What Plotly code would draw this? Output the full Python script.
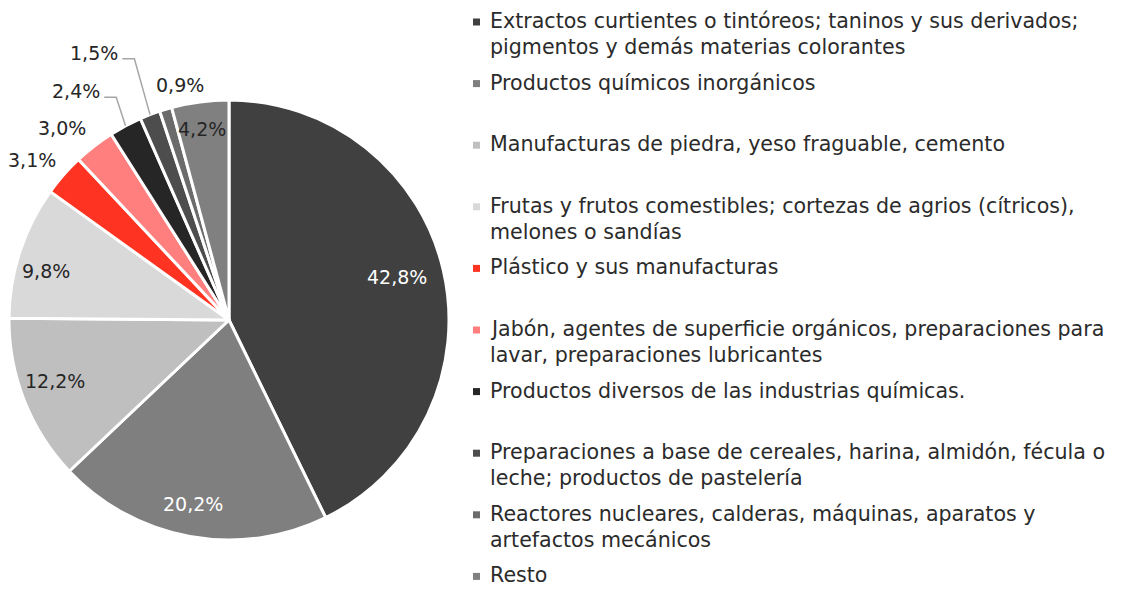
import math
import plotly.graph_objects as go

# ---------------- data ----------------
categories = [
    "Extractos curtientes o tintóreos; taninos y sus derivados;<br>pigmentos y demás materias colorantes",
    "Productos químicos inorgánicos",
    "Manufacturas de piedra, yeso fraguable, cemento",
    "Frutas y frutos comestibles; cortezas de agrios (cítricos),<br>melones o sandías",
    "Plástico y sus manufacturas",
    "Jabón, agentes de superficie orgánicos, preparaciones para<br>lavar, preparaciones lubricantes",
    "Productos diversos de las industrias químicas.",
    "Preparaciones a base de cereales, harina, almidón, fécula o<br>leche; productos de pastelería",
    "Reactores nucleares, calderas, máquinas, aparatos y<br>artefactos mecánicos",
    "Resto",
]
values = [42.8, 20.2, 12.2, 9.8, 3.1, 3.0, 2.4, 1.5, 0.9, 4.2]

# ---------------- style ----------------
colors = ["#404040", "#7f7f7f", "#bfbfbf", "#d9d9d9", "#ff3322",
          "#ff7f7f", "#262626", "#4d4d4d", "#6b6b6b", "#808080"]
label_colors = ["white", "white", "#262626", "#262626", "#262626",
                "#262626", "#262626", "#262626", "#262626", "#262626"]
# label placement: (radius factor, angle offset from slice mid in degrees)
label_place = [(0.79, -1.3), (0.85, 0.8), (0.84, 2.2), (0.86, -3.0), (1.155, -2.1),
               (1.155, -3.2), (1.25, -5.7), (1.36, -5.7), (1.09, 4.9), (0.877, -0.4)]
leader_slices = [6, 7]  # slices with leader lines

PAGE_W, PAGE_H = 1123, 591
OFF = 8                      # default page body margin
W, H = PAGE_W - OFF, PAGE_H - OFF
FONT = "DejaVu Sans"
TEXT_COLOR = "#2b2b2b"
CX, CY, R = 229, 320, 220          # pie centre / radius in page pixels
LEG_X_TEXT, LEG_Y0, LEG_DY, LEG_LINE = 488, 21, 61.6, 26
LEG_FS, LBL_FS = 20.6, 19


def px(x):
    return (x - OFF) / W


def py(y):
    return 1 - (y - OFF) / H


fig = go.Figure()
fig.add_trace(go.Pie(
    labels=[c.replace("<br>", " ") for c in categories],
    values=values,
    sort=False,
    direction="clockwise",
    rotation=0,
    marker=dict(colors=colors, line=dict(color="white", width=3)),
    textinfo="none",
    hoverinfo="label+percent",
    showlegend=False,
    domain=dict(x=[px(CX - R), px(CX + R)], y=[py(CY + R), py(CY - R)]),
))

annotations = []
shapes = []

# slice labels
total = sum(values)
cum = 0.0
for i, v in enumerate(values):
    mid = (cum + v / 2) / total * 360
    cum += v
    rf, off = label_place[i]
    a = math.radians(mid + off)
    lx = CX + rf * R * math.sin(a)
    ly = CY - rf * R * math.cos(a)
    annotations.append(dict(
        x=px(lx), y=py(ly), xref="paper", yref="paper",
        text=f"{v:.1f}".replace(".", ",") + "%",
        showarrow=False, xanchor="center", yanchor="middle",
        font=dict(family=FONT, size=LBL_FS, color=label_colors[i]),
    ))
    if i in leader_slices:
        am = math.radians(mid)
        ex = CX + R * math.sin(am)
        ey = CY - R * math.cos(am)
        sx = lx + 28
        sy = ly + 6
        kx = sx + 12
        shapes.append(dict(
            type="path", xref="paper", yref="paper",
            path=f"M {px(sx)} {py(sy)} L {px(kx)} {py(sy)} L {px(ex)} {py(ey)}",
            line=dict(color="#a6a6a6", width=1.5),
        ))

# legend (evenly spaced like the original)
for i, cat in enumerate(categories):
    y0 = LEG_Y0 + i * LEG_DY
    for j, line in enumerate(cat.split("<br>")):
        annotations.append(dict(
            x=px(LEG_X_TEXT), y=py(y0 + j * LEG_LINE), xref="paper", yref="paper",
            text=line, showarrow=False, xanchor="left", yanchor="middle",
            font=dict(family=FONT, size=LEG_FS, color=TEXT_COLOR),
        ))
    shapes.append(dict(
        type="rect", xref="paper", yref="paper",
        x0=px(473), x1=px(480), y0=py(y0 + 4.5), y1=py(y0 - 2.5),
        fillcolor=colors[i], line=dict(width=0),
    ))

fig.update_layout(
    width=W, height=H,
    margin=dict(l=0, r=0, t=0, b=0),
    paper_bgcolor="white", plot_bgcolor="white",
    annotations=annotations, shapes=shapes,
    showlegend=False,
)

fig.write_html("out.html")
